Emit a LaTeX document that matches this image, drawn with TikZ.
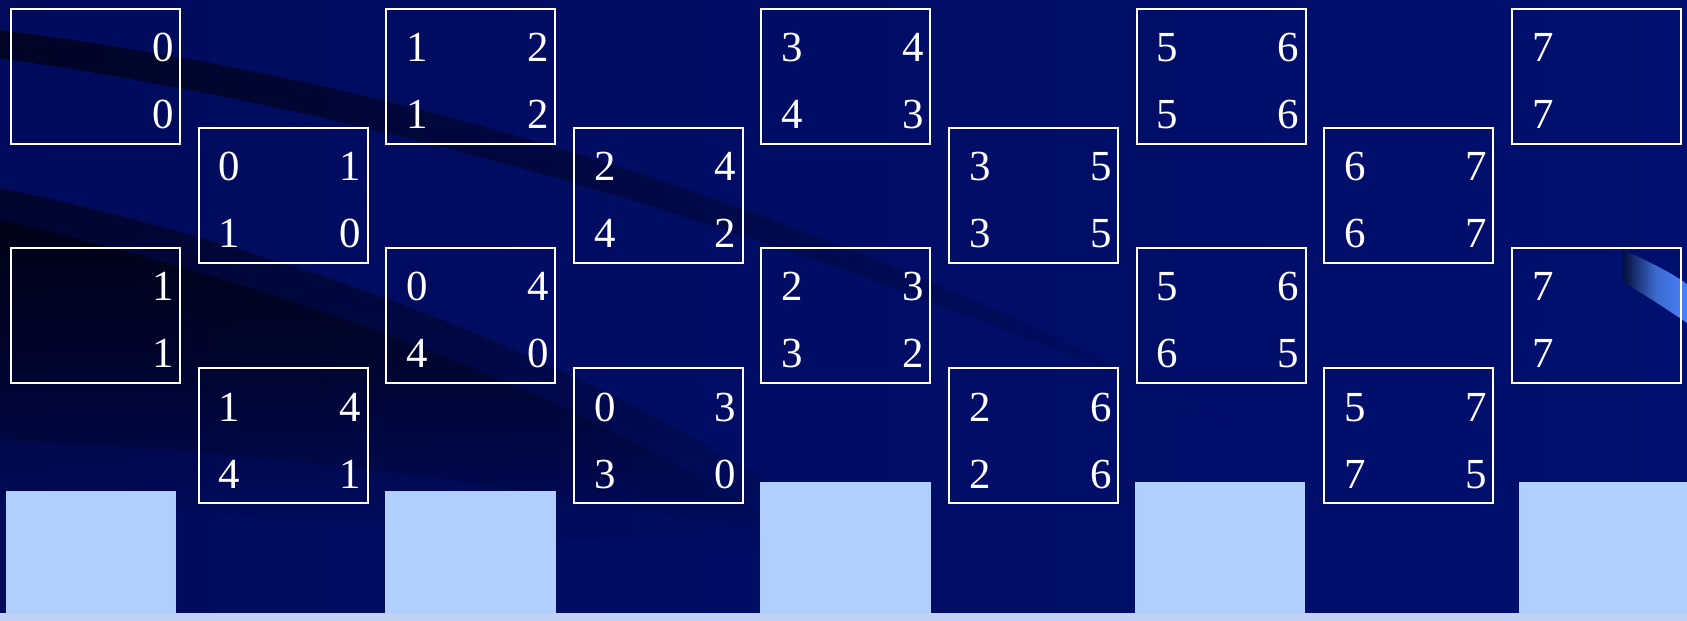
\documentclass[tikz,border=0pt]{standalone}
\usepackage{fontspec}
\setmainfont{Liberation Serif}
\usetikzlibrary{fadings}
\definecolor{fond}{RGB}{1,15,110}
\definecolor{fondgauche}{RGB}{1,11,92}
\definecolor{barre}{RGB}{176,207,252}
\definecolor{socle}{RGB}{194,208,246}
\definecolor{vague}{RGB}{74,130,255}
\definecolor{vaguesombre}{RGB}{4,14,60}
\newcommand\chiffres{\fontsize{24.4pt}{29pt}\selectfont}
\tikzfading[name=fondudroite, left color=transparent!0, middle color=transparent!15, right color=transparent!100]
\tikzfading[name=fondubas, top color=transparent!0, bottom color=transparent!100]

\begin{document}
\begin{tikzpicture}[x=0.02cm,y=-0.02cm]
	% Styles (MODIFIABLES)
	\tikzstyle{case}=[draw=white,line width=0.04cm,minimum width=3.38cm,minimum height=2.7cm,inner sep=0pt,outer sep=0pt,anchor=north west]
	\tikzstyle{chiffre}=[text=white,inner sep=0pt,font=\chiffres]
	\tikzstyle{barre}=[fill=barre]
	\tikzstyle{ombre}=[fill=black]
	% Dimensions (MODIFIABLES)
	\def\Pas{187.6}
	\def\Marge{11}
	\def\HautA{9}
	\def\HautB{128}
	\def\HautC{248}
	\def\HautD{368}
	% Une case : nom, colonne, haut, chiffres (haut gauche, haut droite, bas gauche, bas droite)
	\def\Case#1#2#3#4#5#6#7{%
		\node[case] (#1) at ({\Marge+(#2)*\Pas},#3) {};
		\node[chiffre,anchor=base west] (#1hg) at ([shift={(20,53)}]#1.north west) {#4};
		\node[chiffre,anchor=base east] (#1hd) at ([shift={(-6,53)}]#1.north east) {#5};
		\node[chiffre,anchor=base west] (#1bg) at ([shift={(20,120)}]#1.north west) {#6};
		\node[chiffre,anchor=base east] (#1bd) at ([shift={(-6,120)}]#1.north east) {#7};
	}
	% Fond
	\useasboundingbox (0,0) rectangle (1687,621);
	\shade[left color=fondgauche,right color=fond] (0,0) rectangle (1687,621);
	% Vagues sombres
	\fill[ombre,fill opacity=0.6,path fading=fondudroite] (0,30) .. controls (400,80) and (800,200) .. (1250,430)
		.. controls (800,235) and (400,115) .. (0,58) -- cycle;
	\fill[ombre,fill opacity=0.5,path fading=fondubas] (0,188) .. controls (300,250) and (650,380) .. (880,560)
		.. controls (600,540) and (300,520) .. (0,500) -- cycle;
	\fill[ombre,fill opacity=0.55,path fading=fondubas] (0,220) .. controls (300,290) and (600,400) .. (800,540)
		.. controls (500,480) and (250,450) .. (0,440) -- cycle;
	% Vague claire
	\shade[left color=vaguesombre,right color=vague,middle color=vague!80!black] (1623,250) .. controls (1650,262) and (1670,272) .. (1687,284)
		-- (1687,323) .. controls (1665,308) and (1645,295) .. (1623,282) -- cycle;
	% Barres
	\fill[barre] (6,491) rectangle (176,613);
	\fill[barre] (385,491) rectangle (556,613);
	\fill[barre] (760,482) rectangle (931,613);
	\fill[barre] (1135,482) rectangle (1305,613);
	\fill[barre] (1519,482) rectangle (1687,613);
	\fill[socle] (0,613) rectangle (1687,621);
	% Cases
	\Case{A}{0}{\HautA}{}{0}{}{0}
	\Case{B}{0}{\HautC}{}{1}{}{1}
	\Case{C}{1}{\HautB}{0}{1}{1}{0}
	\Case{D}{1}{\HautD}{1}{4}{4}{1}
	\Case{E}{2}{\HautA}{1}{2}{1}{2}
	\Case{F}{2}{\HautC}{0}{4}{4}{0}
	\Case{G}{3}{\HautB}{2}{4}{4}{2}
	\Case{H}{3}{\HautD}{0}{3}{3}{0}
	\Case{I}{4}{\HautA}{3}{4}{4}{3}
	\Case{J}{4}{\HautC}{2}{3}{3}{2}
	\Case{K}{5}{\HautB}{3}{5}{3}{5}
	\Case{L}{5}{\HautD}{2}{6}{2}{6}
	\Case{M}{6}{\HautA}{5}{6}{5}{6}
	\Case{N}{6}{\HautC}{5}{6}{6}{5}
	\Case{O}{7}{\HautB}{6}{7}{6}{7}
	\Case{P}{7}{\HautD}{5}{7}{7}{5}
	\Case{Q}{8}{\HautA}{7}{}{7}{}
	\Case{R}{8}{\HautC}{7}{}{7}{}
\end{tikzpicture}
\end{document}
